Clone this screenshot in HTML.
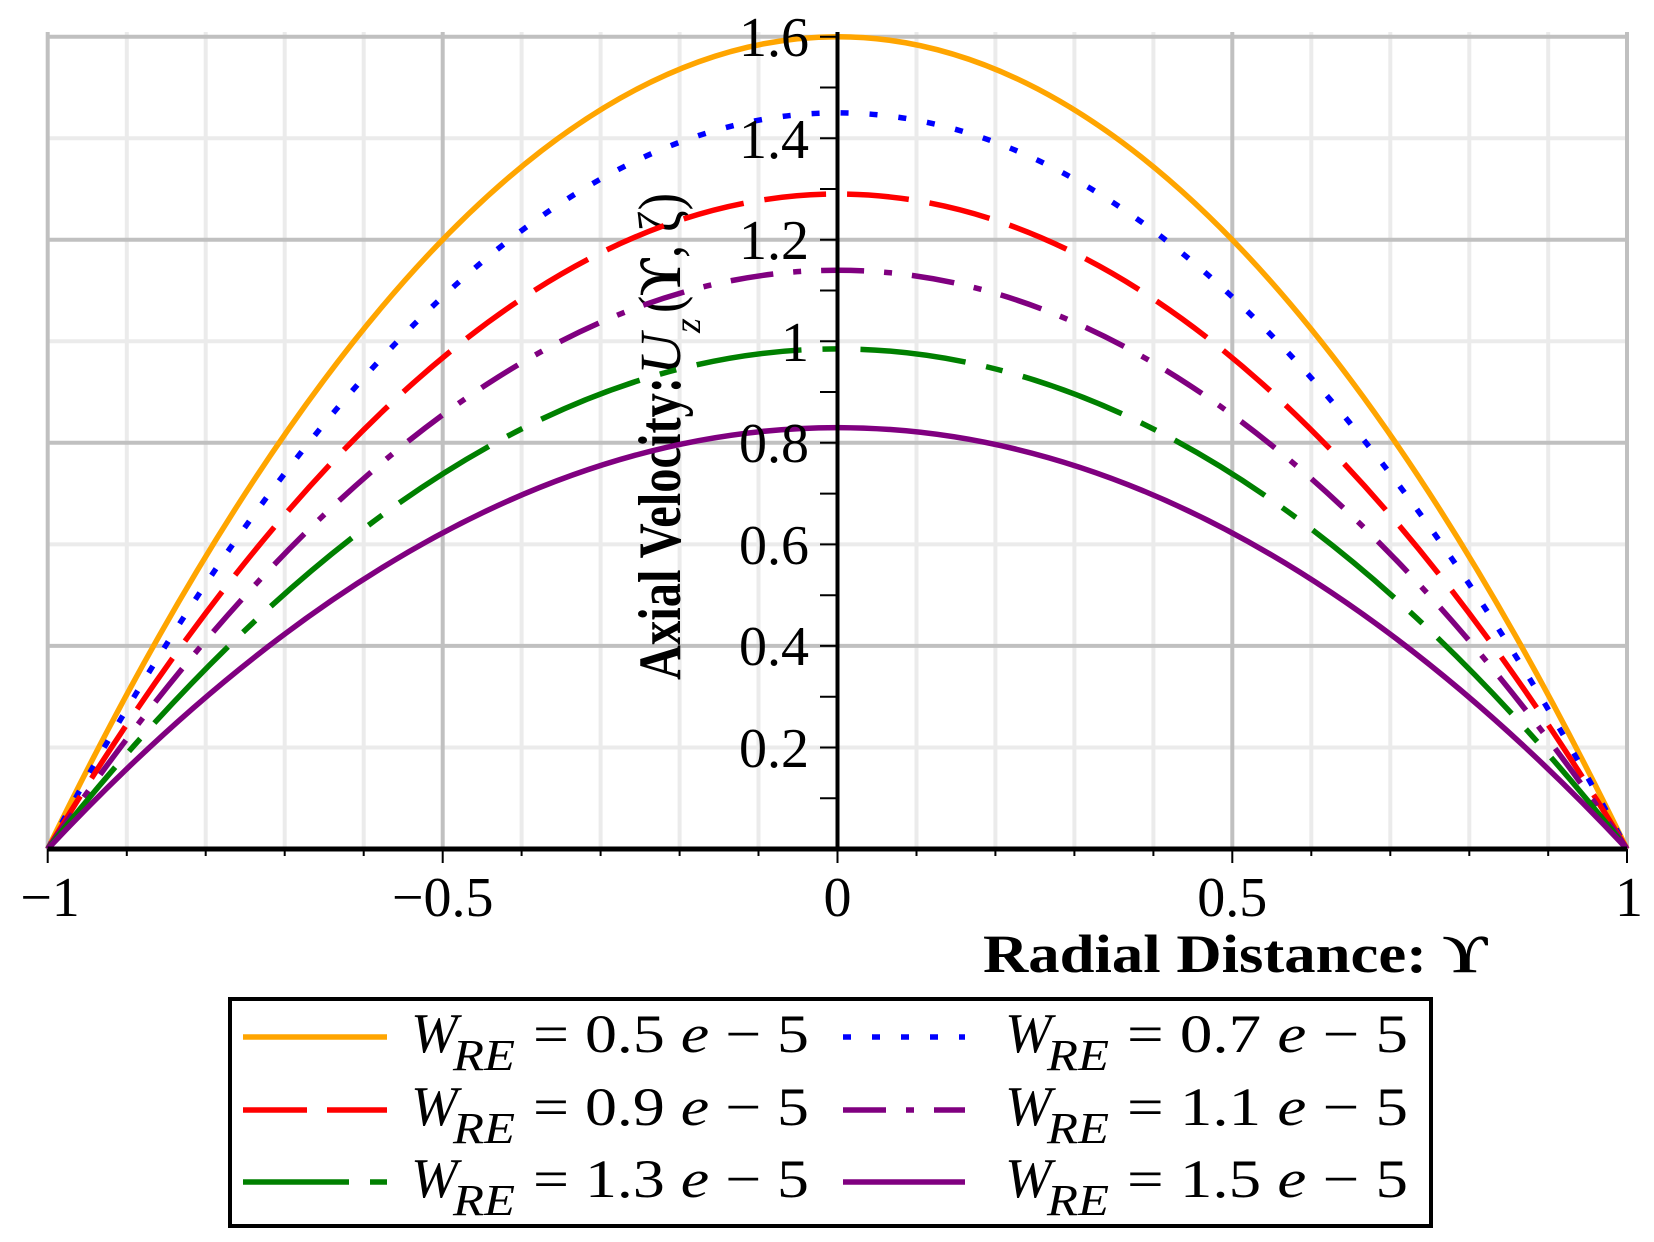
<!DOCTYPE html>
<html><head><meta charset="utf-8"><style>
html,body{margin:0;padding:0;background:#fff;}
svg{display:block;}
text{font-family:"Liberation Serif",serif;fill:#000;}
</style></head><body>
<svg width="1654" height="1242" viewBox="0 0 1654 1242" xmlns="http://www.w3.org/2000/svg">
<rect width="1654" height="1242" fill="#fff"/>
<g stroke="#ebebeb" stroke-width="4">
<line x1="126.8" y1="32" x2="126.8" y2="849"/><line x1="205.7" y1="32" x2="205.7" y2="849"/><line x1="284.7" y1="32" x2="284.7" y2="849"/><line x1="363.7" y1="32" x2="363.7" y2="849"/>
<line x1="521.6" y1="32" x2="521.6" y2="849"/><line x1="600.6" y1="32" x2="600.6" y2="849"/><line x1="679.6" y1="32" x2="679.6" y2="849"/><line x1="758.5" y1="32" x2="758.5" y2="849"/>
<line x1="916.5" y1="32" x2="916.5" y2="849"/><line x1="995.4" y1="32" x2="995.4" y2="849"/><line x1="1074.4" y1="32" x2="1074.4" y2="849"/><line x1="1153.4" y1="32" x2="1153.4" y2="849"/>
<line x1="1311.3" y1="32" x2="1311.3" y2="849"/><line x1="1390.3" y1="32" x2="1390.3" y2="849"/><line x1="1469.3" y1="32" x2="1469.3" y2="849"/><line x1="1548.2" y1="32" x2="1548.2" y2="849"/>
<line x1="47.7" y1="747.5" x2="1627" y2="747.5"/><line x1="47.7" y1="544.4" x2="1627" y2="544.4"/><line x1="47.7" y1="341.3" x2="1627" y2="341.3"/><line x1="47.7" y1="138.2" x2="1627" y2="138.2"/>
</g>
<g stroke="#c0c0c0" stroke-width="4">
<line x1="47.7" y1="32" x2="47.7" y2="849"/><line x1="442.7" y1="32" x2="442.7" y2="849"/><line x1="1232.3" y1="32" x2="1232.3" y2="849"/><line x1="1627" y1="32" x2="1627" y2="849"/>
<line x1="47.7" y1="645.9" x2="1627" y2="645.9"/><line x1="47.7" y1="442.8" x2="1627" y2="442.8"/><line x1="47.7" y1="239.8" x2="1627" y2="239.8"/><line x1="47.7" y1="36.7" x2="1627" y2="36.7"/>
</g>
<!-- y label -->
<g transform="translate(680,680) rotate(-90)" font-weight="bold">
<text x="0" y="0" font-size="60" textLength="303" lengthAdjust="spacingAndGlyphs">Axial Velocity:</text>
<text x="305" y="0" font-size="58" font-style="italic" font-weight="normal">U</text>
<text x="347" y="20" font-size="38" font-style="italic" font-weight="normal">z</text>
<text x="367" y="0" font-size="60" font-weight="normal" textLength="120" lengthAdjust="spacingAndGlyphs">(<tspan font-weight="bold">ϒ</tspan>, ζ)</text>
</g>
<!-- curves -->
<g fill="none" stroke-width="5.5">
<path d="M47.7 849 Q837.5 -775.6 1627 849" stroke="#ffa500"/>
<path d="M47.7 849 Q837.5 -623.3 1627 849" stroke="#0000ff" stroke-dasharray="8 21"/>
<path d="M47.7 849 Q837.5 -460.9 1627 849" stroke="#ff0000" stroke-dasharray="62 21"/>
<path d="M47.7 849 Q837.5 -308.6 1627 849" stroke="#800080" stroke-dasharray="43 20 8 20"/>
<path d="M47.7 849 Q837.5 -151.2 1627 849" stroke="#008000" stroke-dasharray="106 21 17 21"/>
<path d="M47.7 849 Q837.5 6.2 1627 849" stroke="#800080"/>
</g>
<!-- axes -->
<g stroke="#000">
<line x1="47.7" y1="849" x2="1627" y2="849" stroke-width="5"/>
<line x1="837.5" y1="32" x2="837.5" y2="849" stroke-width="4"/>
<g stroke-width="2">
<line x1="820" y1="36.7" x2="838" y2="36.7"/><line x1="820" y1="87.5" x2="838" y2="87.5"/><line x1="820" y1="138.2" x2="838" y2="138.2"/><line x1="820" y1="189" x2="838" y2="189"/>
<line x1="820" y1="239.8" x2="838" y2="239.8"/><line x1="820" y1="290.5" x2="838" y2="290.5"/><line x1="820" y1="341.3" x2="838" y2="341.3"/><line x1="820" y1="392" x2="838" y2="392"/>
<line x1="820" y1="442.8" x2="838" y2="442.8"/><line x1="820" y1="493.6" x2="838" y2="493.6"/><line x1="820" y1="544.4" x2="838" y2="544.4"/><line x1="820" y1="595.2" x2="838" y2="595.2"/>
<line x1="820" y1="645.9" x2="838" y2="645.9"/><line x1="820" y1="696.7" x2="838" y2="696.7"/><line x1="820" y1="747.5" x2="838" y2="747.5"/><line x1="820" y1="798.2" x2="838" y2="798.2"/>
<line x1="47.7" y1="849" x2="47.7" y2="863"/><line x1="442.7" y1="849" x2="442.7" y2="863"/><line x1="837.5" y1="849" x2="837.5" y2="863"/><line x1="1232.3" y1="849" x2="1232.3" y2="863"/><line x1="1627" y1="849" x2="1627" y2="863"/>
<line x1="126.8" y1="849" x2="126.8" y2="856"/><line x1="205.7" y1="849" x2="205.7" y2="856"/><line x1="284.7" y1="849" x2="284.7" y2="856"/><line x1="363.7" y1="849" x2="363.7" y2="856"/>
<line x1="521.6" y1="849" x2="521.6" y2="856"/><line x1="600.6" y1="849" x2="600.6" y2="856"/><line x1="679.6" y1="849" x2="679.6" y2="856"/><line x1="758.5" y1="849" x2="758.5" y2="856"/>
<line x1="916.5" y1="849" x2="916.5" y2="856"/><line x1="995.4" y1="849" x2="995.4" y2="856"/><line x1="1074.4" y1="849" x2="1074.4" y2="856"/><line x1="1153.4" y1="849" x2="1153.4" y2="856"/>
<line x1="1311.3" y1="849" x2="1311.3" y2="856"/><line x1="1390.3" y1="849" x2="1390.3" y2="856"/><line x1="1469.3" y1="849" x2="1469.3" y2="856"/><line x1="1548.2" y1="849" x2="1548.2" y2="856"/>
</g></g>
<!-- y tick labels -->
<g font-size="56" text-anchor="end">
<text x="809" y="56">1.6</text><text x="809" y="158">1.4</text><text x="809" y="259">1.2</text><text x="809" y="361">1</text>
<text x="809" y="462">0.8</text><text x="809" y="564">0.6</text><text x="809" y="665">0.4</text><text x="809" y="767">0.2</text>
</g>
<g font-size="56" text-anchor="middle">
<text x="50" y="916">−1</text><text x="442.7" y="916">−0.5</text><text x="837.5" y="916">0</text><text x="1232.3" y="916">0.5</text><text x="1629" y="916">1</text>
</g>
<text x="1488" y="972" font-size="54" font-weight="bold" text-anchor="end" textLength="505" lengthAdjust="spacingAndGlyphs">Radial Distance: ϒ</text>
<!-- legend -->
<rect x="230" y="999" width="1201" height="227" fill="none" stroke="#000" stroke-width="4"/>
<g stroke-width="5.5">
<line x1="243" y1="1037" x2="387" y2="1037" stroke="#ffa500"/>
<line x1="843" y1="1037" x2="965" y2="1037" stroke="#0000ff" stroke-dasharray="8 21"/>
<line x1="243" y1="1110" x2="387" y2="1110" stroke="#ff0000" stroke-dasharray="64 20"/>
<line x1="843" y1="1110" x2="965" y2="1110" stroke="#800080" stroke-dasharray="43 20 8 20"/>
<line x1="243" y1="1182" x2="387" y2="1182" stroke="#008000" stroke-dasharray="106 21 17 21"/>
<line x1="843" y1="1182" x2="965" y2="1182" stroke="#800080"/>
</g>
<g font-size="54">
<g transform="translate(411,1052)"><text x="0" y="0" font-size="56" font-style="italic">W</text><text x="42" y="18" font-size="44" font-style="italic" textLength="62" lengthAdjust="spacingAndGlyphs">RE</text><text x="122" y="0" textLength="276" lengthAdjust="spacingAndGlyphs">= 0.5 <tspan font-style="italic">e</tspan> − 5</text></g>
<g transform="translate(1005,1052)"><text x="0" y="0" font-size="56" font-style="italic">W</text><text x="42" y="18" font-size="44" font-style="italic" textLength="62" lengthAdjust="spacingAndGlyphs">RE</text><text x="122" y="0" textLength="281" lengthAdjust="spacingAndGlyphs">= 0.7 <tspan font-style="italic">e</tspan> − 5</text></g>
<g transform="translate(411,1125)"><text x="0" y="0" font-size="56" font-style="italic">W</text><text x="42" y="18" font-size="44" font-style="italic" textLength="62" lengthAdjust="spacingAndGlyphs">RE</text><text x="122" y="0" textLength="276" lengthAdjust="spacingAndGlyphs">= 0.9 <tspan font-style="italic">e</tspan> − 5</text></g>
<g transform="translate(1005,1125)"><text x="0" y="0" font-size="56" font-style="italic">W</text><text x="42" y="18" font-size="44" font-style="italic" textLength="62" lengthAdjust="spacingAndGlyphs">RE</text><text x="122" y="0" textLength="281" lengthAdjust="spacingAndGlyphs">= 1.1 <tspan font-style="italic">e</tspan> − 5</text></g>
<g transform="translate(411,1197)"><text x="0" y="0" font-size="56" font-style="italic">W</text><text x="42" y="18" font-size="44" font-style="italic" textLength="62" lengthAdjust="spacingAndGlyphs">RE</text><text x="122" y="0" textLength="276" lengthAdjust="spacingAndGlyphs">= 1.3 <tspan font-style="italic">e</tspan> − 5</text></g>
<g transform="translate(1005,1197)"><text x="0" y="0" font-size="56" font-style="italic">W</text><text x="42" y="18" font-size="44" font-style="italic" textLength="62" lengthAdjust="spacingAndGlyphs">RE</text><text x="122" y="0" textLength="281" lengthAdjust="spacingAndGlyphs">= 1.5 <tspan font-style="italic">e</tspan> − 5</text></g>
</g>
</svg>
</body></html>
